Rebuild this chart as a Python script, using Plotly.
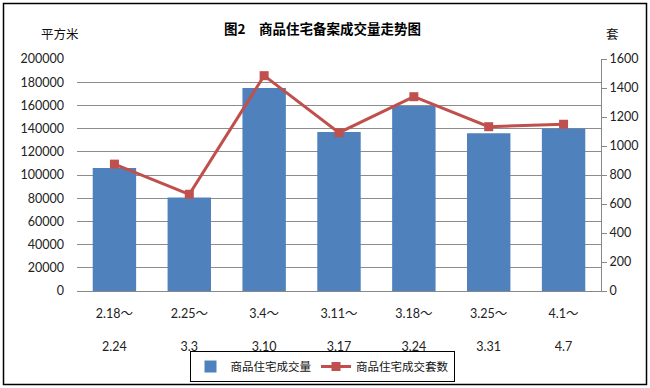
import plotly.graph_objects as go

categories = ["2.18～<br><br>2.24", "2.25～<br><br>3.3", "3.4～<br><br>3.10", "3.11～<br><br>3.17",
              "3.18～<br><br>3.24", "3.25～<br><br>3.31", "4.1～<br><br>4.7"]
area_values = [106000, 80500, 175000, 137000, 159500, 136000, 140000]
units_values = [875, 667, 1485, 1092, 1340, 1133, 1150]
bar_name = "商品住宅成交量"
line_name = "商品住宅成交套数"
title_text = "图2　商品住宅备案成交量走势图"

FONT = "Lato, 'Noto Sans CJK SC', sans-serif"
CJK = "'Noto Sans CJK SC', sans-serif"

# plot area pixel geometry
L, R, T, B = 77, 49, 59, 97
W, H = 650, 388
pw, ph = W - L - R, H - T - B

def px(x):
    return (x - L) / pw

def py(y):
    return (H - B - y) / ph

fig = go.Figure()
fig.add_trace(go.Bar(x=categories, y=area_values, name=bar_name,
                     marker=dict(color="#4F81BD", line=dict(width=0)), yaxis="y"))
fig.add_trace(go.Scatter(x=categories, y=units_values, name=line_name, yaxis="y2",
                         mode="lines+markers",
                         line=dict(color="#C0504D", width=3),
                         marker=dict(symbol="square", size=9, color="#C0504D")))

fig.update_layout(
    width=W, height=H,
    margin=dict(l=L, r=R, t=T, b=B, autoexpand=False),
    paper_bgcolor="white", plot_bgcolor="white",
    font=dict(family=FONT, size=12.5, color="#222"),
    bargap=0.42,
    showlegend=True,
    legend=dict(orientation="h", x=px(322), y=py(366.5), xanchor="center", yanchor="middle",
                bordercolor="#000", borderwidth=1, font=dict(family=CJK, size=11.5, color="#111"),
                itemwidth=30, tracegroupgap=0, bgcolor="white"),
    xaxis=dict(showline=True, linecolor="#888", linewidth=1, ticks="", showgrid=False,
               automargin=False,
               tickfont=dict(family=FONT, size=12.5, color="#222"), ticklabelstandoff=11),
    yaxis=dict(range=[0, 200000], dtick=20000, showgrid=True, gridcolor="#8c8c8c", gridwidth=1,
               showline=False, ticks="", zeroline=False, tickformat="d", automargin=False,
               tickfont=dict(size=12.5, color="#222"), ticklabelstandoff=12),
    yaxis2=dict(range=[0, 1600], dtick=200, overlaying="y", side="right", showgrid=False,
                showline=True, linecolor="#888", linewidth=1, ticks="outside", ticklen=5,
                tickcolor="#888", zeroline=False, automargin=False,
                tickfont=dict(size=12.5, color="#222")),
    annotations=[
        dict(text="<b>" + title_text + "</b>", xref="paper", yref="paper", x=px(322), y=py(28),
             showarrow=False, font=dict(family=CJK, size=13.5, color="#000"),
             xanchor="center", yanchor="middle"),
        dict(text="平方米", xref="paper", yref="paper", x=px(60), y=py(34), showarrow=False,
             font=dict(family=CJK, size=12.5, color="#111"), xanchor="center", yanchor="middle"),
        dict(text="套", xref="paper", yref="paper", x=px(612), y=py(34), showarrow=False,
             font=dict(family=CJK, size=12.5, color="#111"), xanchor="center", yanchor="middle"),
    ],
    shapes=[dict(type="rect", xref="paper", yref="paper", x0=px(3.5), x1=px(646.5),
                 y0=py(384.5), y1=py(3.5), line=dict(color="#000", width=1.5), layer="below")],
)

fig.write_html("out.html", config={"displayModeBar": False},
               post_script="document.body.style.margin='0';document.body.style.overflow='hidden';")
